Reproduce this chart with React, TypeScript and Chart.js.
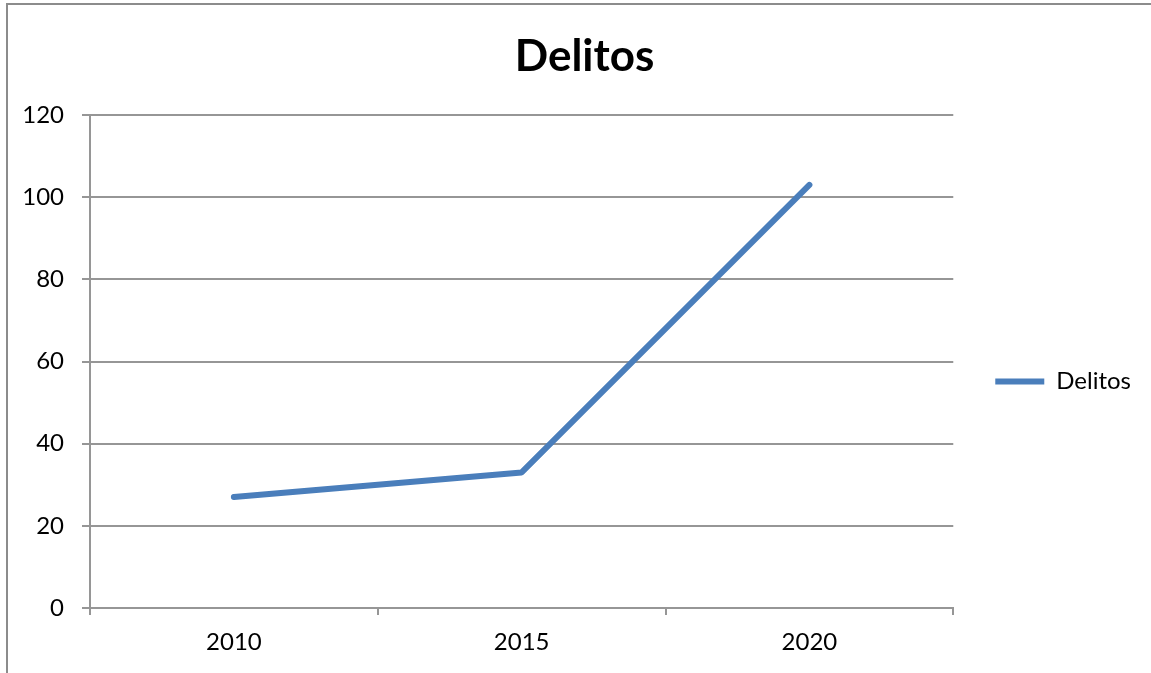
import React, { useEffect, useRef } from "react";
import { Chart, registerables } from "chart.js";

Chart.register(...registerables);

const categories = ["2010", "2015", "2020"];
const seriesName = "Delitos";
const seriesValues = [27, 33, 103];
const titleText = "Delitos";
const yMin = 0;
const yMax = 120;
const yStep = 20;

const FONT = "Lato, 'Open Sans', sans-serif";
const GRID = "#969696";
const BLUE = "#4a7ebb";

// shifts the title block so that it is centred like the original (Excel centres it over the whole chart frame)
const titleShift = {
  id: "titleShift",
  afterLayout(chart: any) {
    if (chart.titleBlock) {
      chart.titleBlock.left += 28;
    }
  },
};

export default function App() {
  const ref = useRef<HTMLCanvasElement | null>(null);

  useEffect(() => {
    if (!ref.current) return;
    const chart = new Chart(ref.current, {
      type: "line",
      data: {
        labels: categories,
        datasets: [
          {
            label: seriesName,
            data: seriesValues,
            borderColor: BLUE,
            backgroundColor: BLUE,
            borderWidth: 6,
            borderCapStyle: "round",
            borderJoinStyle: "round",
            pointRadius: 0,
            tension: 0,
            fill: false,
          },
        ],
      },
      plugins: [titleShift],
      options: {
        responsive: false,
        animation: false,
        devicePixelRatio: 1,
        layout: { padding: { left: 0, right: 10, top: 0, bottom: 0 } },
        plugins: {
          title: {
            display: true,
            text: titleText,
            color: "#000",
            font: { family: FONT, size: 44, weight: "bold" },
            padding: { top: 30, bottom: 32.2 },
          },
          legend: {
            position: "right",
            title: { display: true, text: "", padding: { top: 0, bottom: 75.6 } },
            labels: {
              usePointStyle: true,
              pointStyle: "line",
              pointStyleWidth: 49,
              padding: 42,
              color: "#000",
              font: { family: FONT, size: 24 },
            },
          },
          tooltip: { enabled: false },
        },
        scales: {
          x: {
            type: "category",
            offset: true,
            grid: {
              offset: true,
              drawOnChartArea: false,
              drawTicks: true,
              tickLength: 7,
              color: GRID,
              lineWidth: 2,
            },
            border: { display: true, color: GRID, width: 2 },
            ticks: {
              color: "#000",
              font: { family: FONT, size: 24 },
              padding: 13,
              maxRotation: 0,
            },
            afterFit: (s: any) => {
              s.height = 65;
            },
          },
          y: {
            min: yMin,
            max: yMax,
            grid: {
              color: GRID,
              lineWidth: 2,
              drawTicks: true,
              tickLength: 8,
            },
            border: { display: true, color: GRID, width: 2 },
            ticks: {
              stepSize: yStep,
              color: "#000",
              font: { family: FONT, size: 24 },
              padding: 18,
            },
            afterFit: (s: any) => {
              s.width = 90;
            },
          },
        },
      },
    });
    return () => chart.destroy();
  }, []);

  return (
    <div
      style={{
        position: "absolute",
        left: 0,
        top: 0,
        width: 1151,
        height: 673,
        overflow: "hidden",
        background: "#fff",
      }}
    >
      <div
        style={{
          position: "absolute",
          left: 6,
          top: 3,
          width: 2000,
          height: 2000,
          border: "2px solid #8c8c8c",
        }}
      />
      <canvas
        ref={ref}
        width={1151}
        height={673}
        style={{ position: "absolute", left: 0, top: 0 }}
      />
    </div>
  );
}
